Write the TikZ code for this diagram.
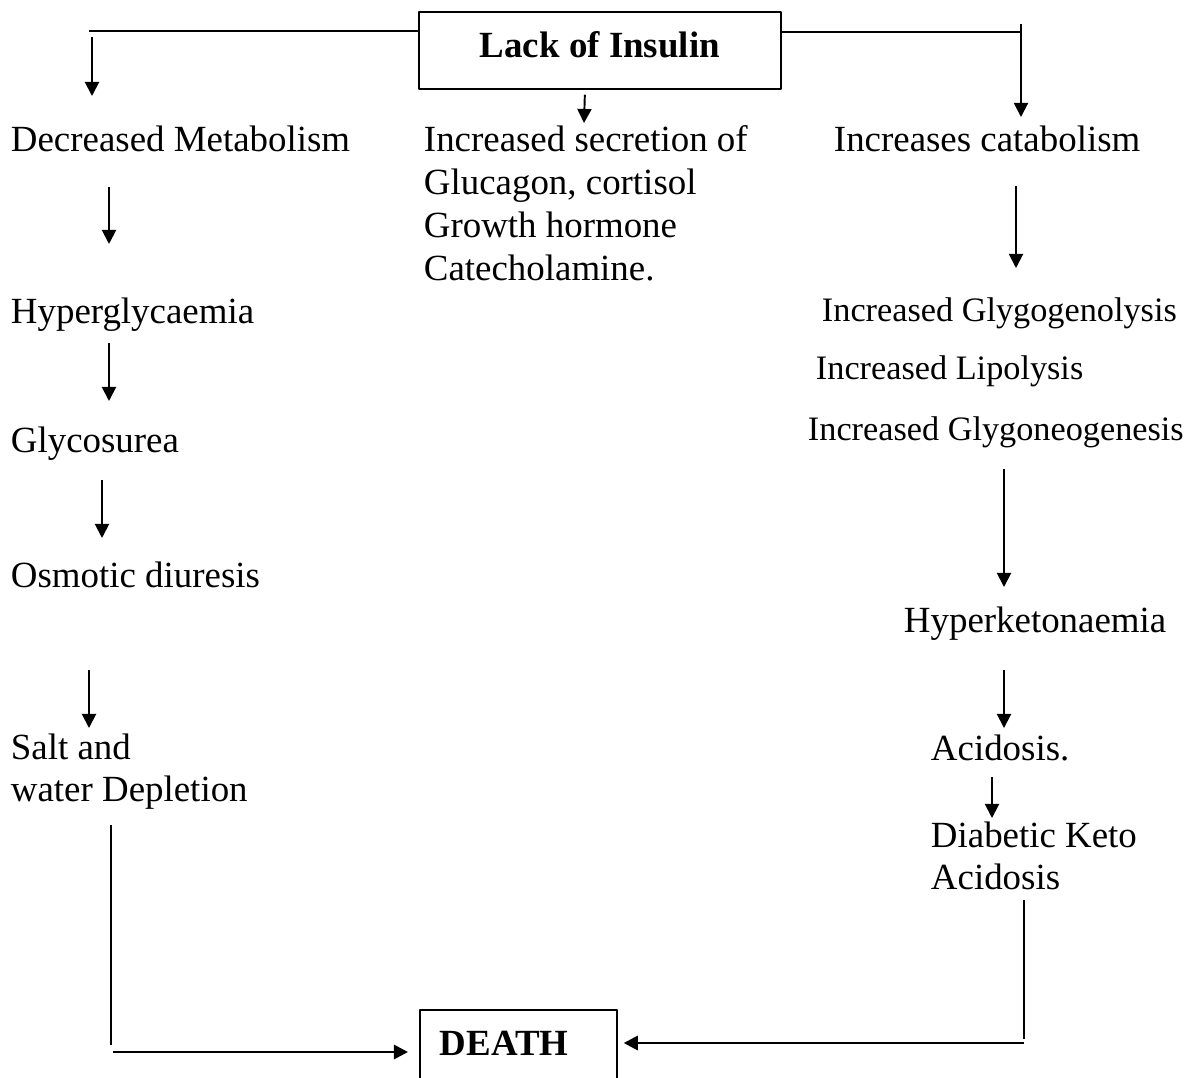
\documentclass[tikz,border=0pt]{standalone}
\usepackage{fontspec}
\setmainfont{Liberation Serif}
\usetikzlibrary{arrows.meta,calc}
\begin{document}
\begin{tikzpicture}[x=0.02cm, y=-0.02cm, line join=round, line width=1.1pt, >={Triangle[length=8pt,width=8pt]},
		txt/.style={anchor=base west, inner sep=0pt, font=\fontsize{21}{24.4}\selectfont},
		sml/.style={txt, font=\fontsize{19.5}{23}\selectfont},
		bx/.style={draw, line width=1pt, inner xsep=0.4cm, inner ysep=0.42cm, text height=0.5cm, font=\fontsize{21}{24.4}\selectfont\bfseries}]
				\useasboundingbox (0,0) rectangle (1193,1078);
				\node[bx, anchor=north west, minimum width=7.24cm, text depth=0.2cm] (lack) at (418,11) {Lack of Insulin};
				\node[bx, anchor=north west, text width=3.14cm, text depth=1.5cm, align=left] (death) at (419,1009) {DEATH};
				% left column
				\node[txt] (dm) at (10,152) {Decreased Metabolism};
				\node[txt] (hg) at (10,323) {Hyperglycaemia};
				\node[txt] (gs) at (10,452) {Glycosurea};
				\node[txt] (od) at (10,587) {Osmotic diuresis};
				\node[txt] (sw) at (10,759) {\begin{tabular}[t]{@{}l@{}}Salt and\\water Depletion\end{tabular}};
				% middle
				\node[txt] (is) at (423,152) {\begin{tabular}[t]{@{}l@{}}Increased secretion of\\Glucagon, cortisol\\Growth hormone\\Catecholamine.\end{tabular}};
				% right column
				\node[txt] (ic) at (833,152) {Increases catabolism};
				\node[sml] (igl) at (821,321) {Increased Glygogenolysis};
				\node[sml] (ilp) at (815,379) {Increased Lipolysis};
				\node[sml] (ign) at (807,440) {Increased Glygoneogenesis};
				\node[txt] (hk) at (903,632) {Hyperketonaemia};
				\node[txt] (ac) at (930,760) {Acidosis.};
				\node[txt] (dka) at (930,847) {\begin{tabular}[t]{@{}l@{}}Diabetic Keto\\Acidosis\end{tabular}};
				\coordinate (lend) at (89,31);
				\coordinate (rend) at (1021,32);
				\coordinate (lcorner) at (111,1045);
				\coordinate (rcorner) at (1024,1039);
				% branches from the top box
				\draw ($(lack.north west)+(0,20)$) -- (lend);
				\draw[->] ($(lend)+(3,6)$) -- ($(dm.base west)+(82,-56)$);
				\draw ($(lack.north east)+(0,21)$) -- (rend);
				\draw[->] ($(rend)+(0,-8)$) -- ($(ic.base west)+(188,-35)$);
				\draw[->] ($(lack.south)+(-15,5)$) -- ($(is.base west)+(161,-29)$);
				% left chain
				\draw[->] ($(dm.base west)+(99,35)$) -- ($(hg.base west)+(99,-79)$);
				\draw[->] ($(hg.base west)+(99,20)$) -- ($(gs.base west)+(99,-51)$);
				\draw[->] ($(gs.base west)+(92,28)$) -- ($(od.base west)+(92,-49)$);
				\draw[->] ($(od.base west)+(79,83)$) -- ($(sw.base west)+(79,-31)$);
				% right chain
				\draw[->] ($(ic.base west)+(183,34)$) -- ($(igl.base west)+(195,-53)$);
				\draw[->] ($(ign.base west)+(197,29)$) -- ($(hk.base west)+(101,-45)$);
				\draw[->] ($(hk.base west)+(101,38)$) -- ($(ac.base west)+(74,-32)$);
				\draw[->] ($(ac.base west)+(62,17)$) -- ($(dka.base west)+(62,-29)$);
				% into death
				\draw ($(sw.base west)+(101,66)$) -- (lcorner);
				\draw[->, line width=1.6pt] ($(lcorner)+(2,7)$) -- ($(death.north west)+(-11,43)$);
				\draw ($(dka.base west)+(94,53)$) -- (rcorner);
				\draw[->, line width=1.6pt] ($(rcorner)+(0,4)$) -- ($(death.north east)+(6,34)$);
		\end{tikzpicture}
\end{document}
